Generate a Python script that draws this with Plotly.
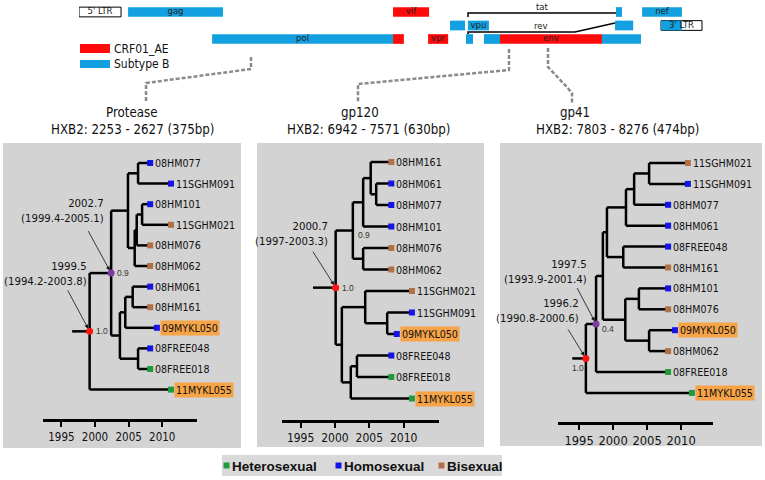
import plotly.graph_objects as go

W, H = 765, 480
NARROW = "DejaVu Sans Condensed, Liberation Sans Narrow, sans-serif"
ARIAL = "Liberation Sans, Arial, sans-serif"

# ======================= DATA =======================
# --- genome map (HXB2-like positions in bp, read from the schematic) ---
seg_name    = ["gag", "pol", "pol", "vif", "vpr", "tat", "vpu", "rev", "env", "env", "env", "tat", "rev", "nef", "3' LTR"]
seg_start   = [770, 2090, 4930, 4930, 5480, 5825, 6105, 6075, 6358, 6609, 8210, 8430, 8415, 8840, 9137]
seg_end     = [2260, 4930, 5100, 5495, 5795, 6060, 6435, 6185, 6609, 8210, 8823, 8525, 8700, 9465, 9466]
seg_lane    = [0, 2, 2, 0, 2, 1, 1, 2, 2, 2, 2, 0, 1, 0, 1]
seg_subtype = ["B", "B", "AE", "AE", "AE", "B", "B", "B", "B", "AE", "B", "B", "B", "B", "B"]
ltr_name  = ["5' LTR", "3' LTR"]
ltr_start = [0, 9137]
ltr_end   = [660, 9780]
ltr_lane  = [0, 1]
gene_labels = ["5' LTR", "gag", "pol", "vif", "vpr", "vpu", "env", "nef", "3' LTR"]
tat_x    = [6107, 6107, 8430]
tat_lane = [0.37, 0.07, 0.07]
rev_x    = [6107, 6107, 7786, 8414]
rev_lane = [1.63, 1.48, 1.48, 0.81]
subtype_legend = ["CRF01_AE", "Subtype B"]

# --- trees ---
panel_titles  = ["Protease", "gp120", "gp41"]
panel_regions = ["HXB2: 2253 - 2627 (375bp)", "HXB2: 6942 - 7571 (630bp)", "HXB2: 7803 - 8276 (474bp)"]
year_ticks = [1995, 2000, 2005, 2010]
highlighted = ["09MYKL050", "11MYKL055"]
risk_groups = ["Heterosexual", "Homosexual", "Bisexual"]

tips1 = ["08HM077", "11SGHM091", "08HM101", "11SGHM021", "08HM076", "08HM062",
         "08HM061", "08HM161", "09MYKL050", "08FREE048", "08FREE018", "11MYKL055"]
groups1 = ["Homosexual", "Homosexual", "Homosexual", "Bisexual", "Bisexual", "Bisexual",
           "Homosexual", "Bisexual", "Homosexual", "Homosexual", "Heterosexual", "Heterosexual"]
tipyear1 = [2008.2, 2011.3, 2008.2, 2011.3, 2008.2, 2008.2, 2008.2, 2008.2, 2009.2, 2008.2, 2008.2, 2011.3]
children1 = [(0, 1), (2, 3), (13, 4), (14, 5), (12, 15), (6, 7), (17, 8), (9, 10), (18, 19), (16, 20), (21, 11)]
nodeyear1 = [2006.4, 2007.0, 2006.2, 2005.9, 2004.9, 2005.6, 2004.5, 2006.4, 2003.7, 2002.4, 1999.2]
rootstub1 = 1996.6
nodeinfo1 = [(21, "2002.7<br>(1999.4-2005.1)", "0.9", "purple"), (22, "1999.5<br>(1994.2-2003.8)", "1.0", "red")]

tips2 = ["08HM161", "08HM061", "08HM077", "08HM101", "08HM076", "08HM062",
         "11SGHM021", "11SGHM091", "09MYKL050", "08FREE048", "08FREE018", "11MYKL055"]
groups2 = ["Bisexual", "Homosexual", "Homosexual", "Homosexual", "Bisexual", "Bisexual",
           "Bisexual", "Homosexual", "Homosexual", "Homosexual", "Heterosexual", "Heterosexual"]
tipyear2 = [2008.2, 2008.2, 2008.2, 2008.2, 2008.2, 2008.2, 2011.2, 2011.2, 2009.0, 2008.2, 2008.2, 2011.2]
children2 = [(1, 2), (0, 12), (13, 3), (4, 5), (14, 15), (7, 8), (6, 17), (9, 10), (19, 11), (18, 20), (16, 21)]
nodeyear2 = [2006.0, 2005.2, 2004.1, 2004.1, 2002.6, 2007.6, 2004.4, 2003.2, 2002.3, 2001.0, 2000.1]
rootstub2 = 1996.8
nodeinfo2 = [(22, "2000.7<br>(1997-2003.3)", "1.0", "red"), (16, None, "0.9", None)]

tips3 = ["11SGHM021", "11SGHM091", "08HM077", "08HM061", "08FREE048", "08HM161",
         "08HM101", "08HM076", "09MYKL050", "08HM062", "08FREE018", "11MYKL055"]
groups3 = ["Bisexual", "Homosexual", "Homosexual", "Homosexual", "Homosexual", "Bisexual",
           "Homosexual", "Bisexual", "Homosexual", "Bisexual", "Heterosexual", "Heterosexual"]
tipyear3 = [2011.0, 2011.0, 2008.1, 2008.1, 2008.1, 2008.1, 2008.1, 2008.1, 2009.1, 2008.1, 2008.1, 2011.6]
children3 = [(0, 1), (12, 2), (13, 3), (4, 5), (14, 15), (6, 7), (8, 9), (17, 18), (16, 19), (20, 10), (21, 11)]
nodeyear3 = [2005.3, 2003.1, 2001.9, 2001.5, 1999.1, 2003.8, 2005.3, 2001.8, 1998.5, 1997.5, 1996.0]
rootstub3 = 1994.0
nodeinfo3 = [(21, "1997.5<br>(1993.9-2001.4)", "0.4", "purple"), (22, "1996.2<br>(1990.8-2000.6)", "1.0", "red")]

trees = [
    dict(tips=tips1, groups=groups1, tipyear=tipyear1, children=children1, nodeyear=nodeyear1,
         rootstub=rootstub1, nodeinfo=nodeinfo1),
    dict(tips=tips2, groups=groups2, tipyear=tipyear2, children=children2, nodeyear=nodeyear2,
         rootstub=rootstub2, nodeinfo=nodeinfo2),
    dict(tips=tips3, groups=groups3, tipyear=tipyear3, children=children3, nodeyear=nodeyear3,
         rootstub=rootstub3, nodeinfo=nodeinfo3),
]

# ======================= STYLE / LAYOUT =======================
def px(x):
    return x / W


def py(y):
    return 1 - y / H


C_B = "#12a0e0"
C_AE = "#ff0a0a"
GROUP_COLORS = {"Heterosexual": "#1f9a3c", "Homosexual": "#1414e6", "Bisexual": "#b07048"}
DOT_COLORS = {"red": "#ff1414", "purple": "#7a3ea0"}
ORANGE = "#f7a448"
PANEL_GRAY = "#d3d3d3"
TIP_FS = 10.6
DATE_FS = 11.3
TITLE_FS = 13.2

panel_style = [
    dict(rect=(3, 143, 241, 448), axis_px=(43, 197), yr=(1992.27, 2015.16), axis_y=420,
         tip_top=163, tip_sp=20.6, tickfont=11.5,
         title=(131, 112), region=(132, 130),
         date_off={21: (-5, 62, -24, -44), 22: (-1, 57, -23, -43)},
         sup_off={21: ("left", 4, 0), 22: ("left", 4, 0)}),
    dict(rect=(257, 143, 484, 447), axis_px=(282, 439), yr=(1992.29, 2015.14), axis_y=421,
         tip_top=162, tip_sp=21.5, tickfont=12,
         title=(360, 112), region=(368, 130),
         date_off={22: (-6, 54, -24, -38)},
         sup_off={22: ("left", 4, 0), 16: ("left", 3, -4)}),
    dict(rect=(500, 143, 762, 446), axis_px=(558, 713), yr=(1991.9, 2014.7), axis_y=423,
         tip_top=163, tip_sp=20.9, tickfont=12.8,
         title=(575, 112), region=(617, 130),
         date_off={21: (-7, 52, -20, -38), 22: (-5, 47, -19, -31)},
         sup_off={21: ("left", 4, -5), 22: ("center", -8, -10)}),
]

fig = go.Figure()
shapes = []
annotations = []
layout_axes = {}

# ---------- genome map ----------
GX, GY = "x4", "y4"
fig.add_trace(go.Bar(
    orientation="h", y=ltr_lane, base=ltr_start,
    x=[e - s for s, e in zip(ltr_start, ltr_end)], width=0.72,
    marker=dict(color="white", line=dict(color="black", width=1)),
    xaxis=GX, yaxis=GY, showlegend=False, hoverinfo="skip"))
fig.add_trace(go.Bar(
    orientation="h", y=seg_lane, base=seg_start,
    x=[e - s for s, e in zip(seg_start, seg_end)], width=0.72,
    marker=dict(color=[C_B if t == "B" else C_AE for t in seg_subtype], line=dict(width=0)),
    xaxis=GX, yaxis=GY, showlegend=False, hoverinfo="skip"))

lab_x, lab_y = [], []
for g in gene_labels:
    if g in ltr_name:
        k = ltr_name.index(g)
        lab_x.append((ltr_start[k] + ltr_end[k]) / 2)
        lab_y.append(ltr_lane[k])
    else:
        idx = [i for i, n in enumerate(seg_name) if n == g]
        k = max(idx, key=lambda i: seg_end[i] - seg_start[i])
        lab_x.append((seg_start[k] + seg_end[k]) / 2)
        lab_y.append(seg_lane[k])
fig.add_trace(go.Scatter(x=lab_x, y=lab_y, mode="text", text=gene_labels,
                         textfont=dict(family=NARROW, size=9.5, color="#222"),
                         xaxis=GX, yaxis=GY, showlegend=False, hoverinfo="skip"))
for xs, ys, name in [(tat_x, tat_lane, "tat"), (rev_x, rev_lane, "rev")]:
    fig.add_trace(go.Scatter(x=xs, y=ys, mode="lines", line=dict(color="black", width=1.5),
                             xaxis=GX, yaxis=GY, showlegend=False, hoverinfo="skip"))
    annotations.append(dict(x=(xs[0] + xs[-1]) / 2, y=ys[2] if name == "rev" else ys[-1],
                            xref=GX, yref=GY, text=name, showarrow=False, yanchor="bottom",
                            yshift=-1, font=dict(family=NARROW, size=9.5, color="#222")))

layout_axes["xaxis4"] = dict(domain=[px(79), px(716)], range=[0, 10000], visible=False,
                             anchor="y4", fixedrange=True)
layout_axes["yaxis4"] = dict(domain=[py(72), py(0)], range=[(72 - 12) / 13.5, (0 - 12) / 13.5],
                             visible=False, anchor="x4", fixedrange=True)

# subtype legend
for i, (lab, col) in enumerate(zip(subtype_legend, [C_AE, C_B])):
    y0, y1 = [(44, 53), (60, 68)][i]
    shapes.append(dict(type="rect", xref="paper", yref="paper", x0=px(80), x1=px(110),
                       y0=py(y1), y1=py(y0), fillcolor=col, line=dict(width=0)))
    annotations.append(dict(xref="paper", yref="paper", x=px(112), y=py((y0 + y1) / 2),
                            text=lab, showarrow=False, xanchor="left", yanchor="middle",
                            font=dict(family=NARROW, size=12, color="#111")))

# dashed connectors (decoration)
connectors = [
    [(251, 57), (251, 69), (146, 83), (146, 103)],
    [(509, 49), (509, 70), (358, 84), (358, 103)],
    [(548, 48), (548, 67), (565, 85), (572, 93), (572, 103)],
]
for pts in connectors:
    path = "M " + " L ".join(f"{px(x):.5f},{py(y):.5f}" for x, y in pts)
    shapes.append(dict(type="path", xref="paper", yref="paper", path=path,
                       line=dict(color="#8a8a8a", width=2.5, dash="4px,2px")))

# ---------- trees ----------
for p, (tr, st) in enumerate(zip(trees, panel_style)):
    n = p + 1
    xr, yr = f"x{n}", f"y{n}"
    x0p, y0p, x1p, y1p = st["rect"]
    shapes.append(dict(type="rect", xref="paper", yref="paper", x0=px(x0p), x1=px(x1p),
                       y0=py(y1p), y1=py(y0p), fillcolor=PANEL_GRAY, line=dict(width=0),
                       layer="below"))
    ntip = len(tr["tips"])
    ypos = list(range(ntip))
    xpos = list(tr["tipyear"])
    for (a, b), t in zip(tr["children"], tr["nodeyear"]):
        ypos.append((ypos[a] + ypos[b]) / 2)
        xpos.append(t)
    lx, ly = [], []
    for k, ((a, b), t) in enumerate(zip(tr["children"], tr["nodeyear"])):
        lx += [t, t, None]
        ly += [ypos[a], ypos[b], None]
        for c in (a, b):
            lx += [t, xpos[c], None]
            ly += [ypos[c], ypos[c], None]
    root = len(xpos) - 1
    lx += [tr["rootstub"], xpos[root], None]
    ly += [ypos[root], ypos[root], None]
    fig.add_trace(go.Scatter(x=lx, y=ly, mode="lines", line=dict(color="black", width=2.5),
                             xaxis=xr, yaxis=yr, showlegend=False, hoverinfo="skip",
                             cliponaxis=False))
    for g in risk_groups:
        ids = [i for i in range(ntip) if tr["groups"][i] == g]
        fig.add_trace(go.Scatter(x=[tr["tipyear"][i] for i in ids], y=ids, mode="markers",
                                 marker=dict(symbol="square", size=6, color=GROUP_COLORS[g]),
                                 xaxis=xr, yaxis=yr, showlegend=False, cliponaxis=False,
                                 hoverinfo="skip"))
    for i, name in enumerate(tr["tips"]):
        hl = name in highlighted
        annotations.append(dict(x=tr["tipyear"][i], y=i, xref=xr, yref=yr, text=name,
                                showarrow=False, xanchor="left", yanchor="middle", xshift=3,
                                bgcolor=ORANGE if hl else "rgba(0,0,0,0)", borderpad=1,
                                font=dict(family=NARROW, size=TIP_FS, color="#111")))
    for node, date, sup, dot in tr["nodeinfo"]:
        if dot:
            fig.add_trace(go.Scatter(x=[xpos[node]], y=[ypos[node]], mode="markers",
                                     marker=dict(size=7, color=DOT_COLORS[dot]),
                                     xaxis=xr, yaxis=yr, showlegend=False, cliponaxis=False,
                                     hoverinfo="skip"))
        anc, sx, sy = st["sup_off"][node]
        annotations.append(dict(x=xpos[node], y=ypos[node], xref=xr, yref=yr, text=sup,
                                showarrow=False, xanchor=anc, yanchor="middle", xshift=sx,
                                yshift=sy, font=dict(family=ARIAL, size=8.5, color="#333")))
        if date:
            dx, dy, ax, ay = st["date_off"][node]
            annotations.append(dict(x=xpos[node], y=ypos[node], xref=xr, yref=yr, text=date,
                                    showarrow=False, xanchor="right", yanchor="middle",
                                    align="right", xshift=dx, yshift=dy,
                                    font=dict(family=NARROW, size=DATE_FS, color="#111")))
            annotations.append(dict(x=xpos[node], y=ypos[node], xref=xr, yref=yr, text=" ",
                                    showarrow=True, ax=ax, ay=ay, arrowhead=2, arrowsize=1,
                                    arrowwidth=0.8, arrowcolor="#111", standoff=3,
                                    font=dict(size=1)))
    # titles
    annotations.append(dict(xref="paper", yref="paper", x=px(st["title"][0]), y=py(st["title"][1]),
                            text=panel_titles[p], showarrow=False, xanchor="center",
                            yanchor="middle", font=dict(family=NARROW, size=TITLE_FS, color="#111")))
    annotations.append(dict(xref="paper", yref="paper", x=px(st["region"][0]), y=py(st["region"][1]),
                            text=panel_regions[p], showarrow=False, xanchor="center",
                            yanchor="middle", font=dict(family=NARROW, size=TITLE_FS, color="#111")))
    a0, a1 = st["axis_px"]
    layout_axes[f"xaxis{n}"] = dict(domain=[px(a0), px(a1)], range=list(st["yr"]),
                                    anchor="free", position=py(st["axis_y"]),
                                    tickvals=year_ticks, ticks="outside", ticklen=5, tickwidth=2,
                                    tickcolor="black", showline=True, linewidth=2.5, tickangle=0,
                                    linecolor="black", showgrid=False, zeroline=False,
                                    tickfont=dict(family=NARROW, size=st["tickfont"], color="#111"),
                                    fixedrange=True)
    top, sp = st["tip_top"], st["tip_sp"]
    layout_axes[f"yaxis{n}"] = dict(domain=[py(410), py(150)],
                                    range=[(410 - top) / sp, (150 - top) / sp],
                                    visible=False, anchor=xr, fixedrange=True)

# ---------- bottom legend ----------
shapes.append(dict(type="rect", xref="paper", yref="paper", x0=px(222), x1=px(502),
                   y0=py(476), y1=py(455), fillcolor="#d9d9d9", line=dict(width=0), layer="below"))
leg_sq = [226.5, 338.5, 441.5]
for g, sx in zip(risk_groups, leg_sq):
    shapes.append(dict(type="rect", xref="paper", yref="paper", x0=px(sx - 3), x1=px(sx + 3),
                       y0=py(468.5), y1=py(462.5), fillcolor=GROUP_COLORS[g], line=dict(width=0)))
    annotations.append(dict(xref="paper", yref="paper", x=px(sx + 3), y=py(466), text=f"<b>{g}</b>",
                            showarrow=False, xanchor="left", yanchor="middle",
                            font=dict(family=ARIAL, size=13.5, color="#111")))

fig.update_layout(
    width=W, height=H, autosize=False,
    margin=dict(l=0, r=0, t=0, b=0, pad=0),
    paper_bgcolor="white", plot_bgcolor="rgba(0,0,0,0)",
    barmode="overlay", showlegend=False,
    shapes=shapes, annotations=annotations,
    **layout_axes,
)
fig.write_html("out.html", config={"displayModeBar": False},
               post_script="document.body.style.margin='0';document.body.style.padding='0';")
